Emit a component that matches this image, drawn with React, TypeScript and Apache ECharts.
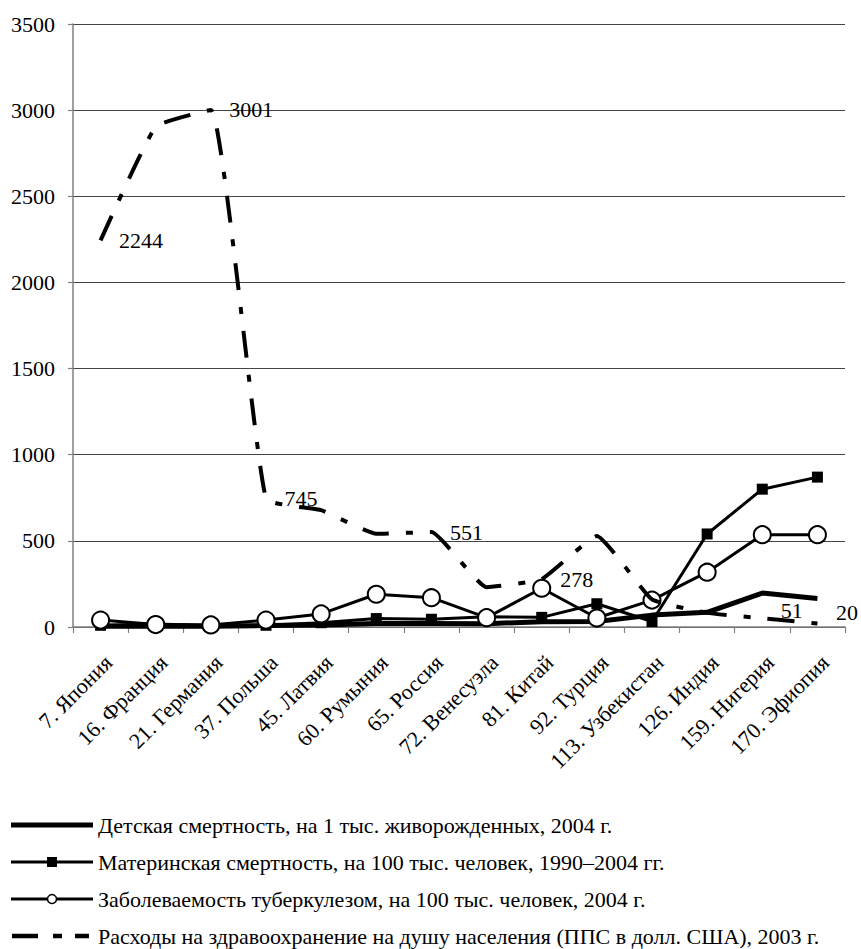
import React, { useEffect, useRef } from 'react';
import * as echarts from 'echarts';

const categories = [
  '7. Япония', '16. Франция', '21. Германия', '37. Польша', '45. Латвия',
  '60. Румыния', '65. Россия', '72. Венесуэла', '81. Китай', '92. Турция',
  '113. Узбекистан', '126. Индия', '159. Нигерия', '170. Эфиопия',
];

const seriesNames = [
  'Детская смертность, на 1 тыс. живорожденных, 2004 г.',
  'Материнская смертность, на 100 тыс. человек, 1990–2004 гг.',
  'Заболеваемость туберкулезом, на 100 тыс. человек, 2004 г.',
  'Расходы на здравоохранение на душу населения (ППС в долл. США), 2003 г.',
];

const infantMortality = [4, 5, 5, 8, 12, 20, 21, 19, 31, 32, 69, 85, 197, 166];
const maternalMortality = [10, 17, 8, 10, 25, 49, 45, 60, 56, 135, 32, 540, 800, 870];
const tuberculosis = [40, 14, 12, 40, 76, 190, 170, 54, 225, 52, 156, 318, 536, 536];
const healthExpenses = [2244, 2903, 3001, 745, 678, 541, 551, 231, 278, 528, 160, 82, 51, 20];
const labeledExpenseIdx = [0, 2, 3, 6, 8, 12, 13];

const yTicks = { min: 0, max: 3500, interval: 500 };

const FONT = 'Liberation Serif, Times New Roman, serif';

function legendGraphics() {
  const rowsY = [825, 862, 899, 936];
  const x0 = 11;
  const x1 = 93;
  const textX = 98;
  const els: any[] = [];
  rowsY.forEach((y, i) => {
    if (i === 0) {
      els.push({ type: 'line', shape: { x1: x0, y1: y, x2: x1, y2: y }, style: { stroke: '#000', lineWidth: 5 } });
    } else if (i === 1) {
      els.push({ type: 'line', shape: { x1: x0, y1: y, x2: x1, y2: y }, style: { stroke: '#000', lineWidth: 3 } });
      els.push({ type: 'rect', shape: { x: (x0 + x1) / 2 - 5, y: y - 5, width: 10, height: 10 }, style: { fill: '#000' } });
    } else if (i === 2) {
      els.push({ type: 'line', shape: { x1: x0, y1: y, x2: x1, y2: y }, style: { stroke: '#000', lineWidth: 3 } });
      els.push({ type: 'circle', shape: { cx: (x0 + x1) / 2, cy: y, r: 4.5 }, style: { fill: '#fff', stroke: '#000', lineWidth: 1.5 } });
    } else {
      els.push({ type: 'line', shape: { x1: 12, y1: y, x2: 89, y2: y }, style: { stroke: '#000', lineWidth: 4.5, lineDash: [26, 15, 9, 13] } });
    }
    els.push({
      type: 'text',
      x: textX,
      y: y,
      style: { text: seriesNames[i], fontSize: 22, fontFamily: FONT, fill: '#000', textVerticalAlign: 'middle', textAlign: 'left' },
    });
  });
  return els;
}

export default function App() {
  const ref = useRef<HTMLDivElement>(null);
  useEffect(() => {
    const chart = echarts.init(ref.current!, null, { renderer: 'svg' });
    const labelOffsets: Record<number, number[]> = { 12: [0, -8], 13: [0, -11] };
    chart.setOption({
      animation: false,
      backgroundColor: '#ffffff',
      textStyle: { fontFamily: FONT },
      grid: { left: 73, right: 16, top: 24, bottom: 322 },
      xAxis: {
        type: 'category',
        data: categories,
        boundaryGap: true,
        axisLine: { lineStyle: { color: '#808080', width: 1.5 } },
        axisTick: { show: true, length: 6, lineStyle: { color: '#808080', width: 1.2 } },
        axisLabel: {
          rotate: 45, fontSize: 22, color: '#000', margin: 24, interval: 0, fontFamily: FONT,
          verticalAlign: 'top',
        },
      },
      yAxis: {
        type: 'value',
        min: yTicks.min,
        max: yTicks.max,
        interval: yTicks.interval,
        axisLine: { show: true, lineStyle: { color: '#808080', width: 1.5 } },
        axisTick: { show: true, length: 5, lineStyle: { color: '#808080', width: 1.2 } },
        axisLabel: { fontSize: 22, color: '#000', margin: 18, fontFamily: FONT, formatter: (v: number) => String(v) },
        splitLine: { lineStyle: { color: '#444', width: 1 } },
      },
      legend: { show: false },
      graphic: legendGraphics(),
      series: [
        {
          name: seriesNames[0],
          type: 'line',
          data: infantMortality,
          symbol: 'none',
          lineStyle: { color: '#000', width: 5 },
          itemStyle: { color: '#000' },
          z: 2,
        },
        {
          name: seriesNames[1],
          type: 'line',
          data: maternalMortality,
          symbol: 'rect',
          symbolSize: 11,
          lineStyle: { color: '#000', width: 3 },
          itemStyle: { color: '#000' },
          z: 3,
        },
        {
          name: seriesNames[2],
          type: 'line',
          data: tuberculosis,
          symbol: 'circle',
          symbolSize: 17,
          lineStyle: { color: '#000', width: 3 },
          itemStyle: { color: '#fff', borderColor: '#000', borderWidth: 2 },
          z: 4,
        },
        {
          name: seriesNames[3],
          type: 'line',
          smooth: 0.12,
          data: healthExpenses.map((v, i) =>
            labeledExpenseIdx.includes(i)
              ? { value: v, label: { show: true, offset: labelOffsets[i] || [0, 0] } }
              : v
          ),
          symbol: 'circle',
          symbolSize: 1,
          showAllSymbol: true,
          lineStyle: { color: '#000', width: 4, type: [27, 17, 7, 17] },
          itemStyle: { color: 'rgba(0,0,0,0)' },
          label: { show: false, position: 'right', distance: 18, fontSize: 22, color: '#000', fontFamily: FONT },
          z: 5,
        },
      ],
    });
    return () => chart.dispose();
  }, []);
  return <div ref={ref} style={{ position: 'fixed', left: 0, top: 0, width: 861, height: 949 }} />;
}
